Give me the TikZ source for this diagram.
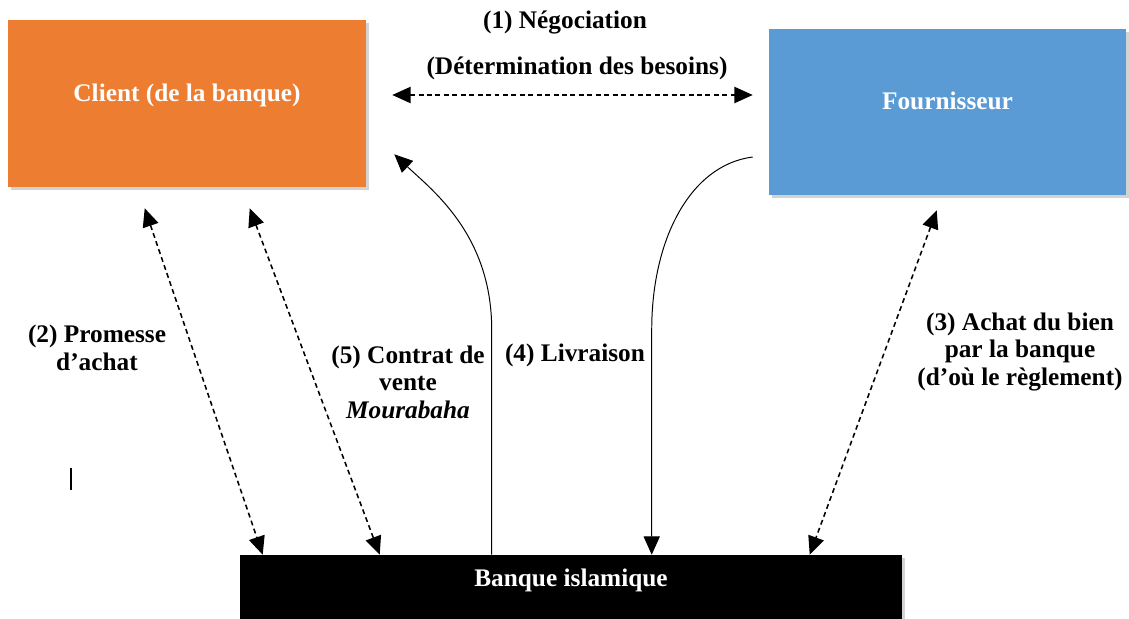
\documentclass[tikz,border=0pt]{standalone}
\usepackage{fontspec}
\setmainfont{Liberation Serif}
\usepackage{tikz}
\usetikzlibrary{arrows.meta, positioning, calc, shadows}
\definecolor{clientorange}{HTML}{ED7D31}
\definecolor{supplierblue}{HTML}{5B9BD5}
\definecolor{bankblack}{HTML}{000000}

\tikzset{
  box/.style={rectangle, inner sep=0pt,
    drop shadow={shadow xshift=2pt, shadow yshift=-2pt, opacity=0.35}},
  boxtxt/.style={font=\fontsize{18}{20}\selectfont\bfseries, text=white, inner sep=0pt},
  lbl/.style={font=\fontsize{18}{19.5}\selectfont\bfseries, align=center, inner sep=0pt},
  dblarrow/.style={{Triangle[length=13pt,width=11.5pt]}-{Triangle[length=13pt,width=11.5pt]}, dash pattern=on 3.5pt off 2.5pt, line width=1.1pt},
  flowarrow/.style={-{Triangle[length=13pt,width=11.5pt]}, line width=0.7pt}
}

\begin{document}
\begin{tikzpicture}[x=0.025cm, y=-0.025cm]
  \useasboundingbox (0,0) rectangle (1129,618);

  % Parties
  \node[box, fill=clientorange, minimum width=358*0.025cm, minimum height=167*0.025cm] (client) at (187,103.5) {};
  \node[box, fill=supplierblue, minimum width=357*0.025cm, minimum height=166*0.025cm] (fourn) at (947.5,112) {};
  \node[box, fill=bankblack, minimum width=662*0.025cm, minimum height=70*0.025cm] (banque) at (571,590) {};
  \node[boxtxt] (clienttxt) at (187,95) {Client (de la banque)};
  \node[boxtxt] (fourntxt) at (947.5,101) {Fournisseur};
  \node[boxtxt] (banquetxt) at (571,580) {Banque islamique};

  % (1) Negotiation between client and supplier
  \node[lbl] (neg) at (565,22) {(1) Négociation};
  \node[lbl] (besoins) at (577,68) {(Détermination des besoins)};
  \draw[dblarrow] ($(client.east)+(26,-8.5)$) -- ($(fourn.west)+(-16,-17)$);

  % (2) and (5) between client and bank
  \draw[dblarrow] ($(client.south west)+(137,21)$) -- ($(banque.north west)+(23,0)$);
  \draw[dblarrow] ($(client.south west)+(242,21)$) -- ($(banque.north west)+(140,0)$);
  \node[lbl] (promesse) at (97,348) {(2) Promesse\\d’achat};
  \node[lbl] (contrat) at (408,382) {(5) Contrat de\\vente\\\textit{Mourabaha}};

  % Bank sells to client
  \coordinate (up5) at ($(banque.north west)+(252,-225)$);
  \draw[flowarrow] ($(banque.north west)+(252,0)$) -- (up5)
    .. controls ($(up5)+(0,-95)$) and (432,190) .. ($(client.south east)+(28,-33)$);

  % (4) Delivery from supplier to bank
  \coordinate (dn4) at ($(banque.north west)+(412,-225)$);
  \draw[flowarrow] ($(fourn.west)+(-16,45)$) .. controls (690,165) and ($(dn4)+(0,-90)$) .. (dn4)
    -- ($(banque.north west)+(412,0)$);
  \node[lbl] (livraison) at (575,355) {(4) Livraison};

  % (3) Purchase by the bank
  \draw[dblarrow] ($(fourn.south west)+(168,15)$) -- ($(banque.north west)+(570,0)$);
  \node[lbl] (achat) at (1020,352) {(3) Achat du bien\\par la banque\\(d’où le règlement)};

  % stray cursor mark
  \draw[line width=0.8pt] (71,468) -- (71,490);
\end{tikzpicture}
\end{document}
